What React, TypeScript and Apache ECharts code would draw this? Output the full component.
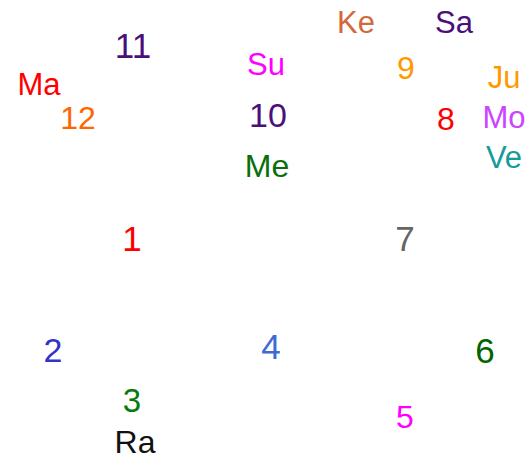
import React, { useEffect, useRef } from "react";
import * as echarts from "echarts";

const labels = ["11", "Ma", "12", "Su", "10", "Me", "Ke", "Sa", "9", "Ju", "8", "Mo", "Ve", "1", "7", "2", "4", "6", "3", "5", "Ra"];
const xs = [133, 39, 78, 266, 268, 267, 356, 454, 406, 504, 446, 504, 504, 132, 405, 53, 271, 485, 132, 405, 135];
const ys = [45.5, 84, 118, 64, 115, 166, 22, 22, 68, 77, 119, 117, 157, 238, 238, 350, 346, 350, 400, 417, 442];
const colors = ["#4b0f7a", "#ff0000", "#ff6600", "#ff00ff", "#4b0f7a", "#0a6e0a", "#d2693c", "#4b0f7a", "#ff9900", "#ff9900", "#ff0000", "#cc44ff", "#169b9b", "#ff0000", "#666666", "#3333cc", "#3d6bd3", "#006400", "#0a7a0a", "#ff00ff", "#111111"];
const sizes = [35, 31, 32, 31, 34, 32, 31, 31, 32, 31, 32, 31, 31, 35, 35, 34, 35, 35, 33, 32, 32];

export default function App() {
  const ref = useRef<HTMLDivElement>(null);
  useEffect(() => {
    document.body.style.margin = "0";
    const chart = echarts.init(ref.current!, null, { renderer: "svg" });
    const data = labels.map((name, i) => ({
      name,
      value: [xs[i], ys[i]],
      label: { color: colors[i], fontSize: sizes[i] },
    }));
    chart.setOption({
      animation: false,
      backgroundColor: "#ffffff",
      grid: { left: 0, right: 0, top: 0, bottom: 0 },
      xAxis: { type: "value", min: 0, max: 529, show: false },
      yAxis: { type: "value", min: 0, max: 459, inverse: true, show: false },
      series: [
        {
          type: "scatter",
          symbolSize: 0,
          itemStyle: { opacity: 1 },
          data,
          label: {
            show: true,
            position: "inside",
            opacity: 1,
            formatter: (p: any) => p.name,
            fontFamily: "Liberation Sans",
          },
        },
      ],
    });
    return () => chart.dispose();
  }, []);
  return <div ref={ref} style={{ width: 529, height: 459 }} />;
}
